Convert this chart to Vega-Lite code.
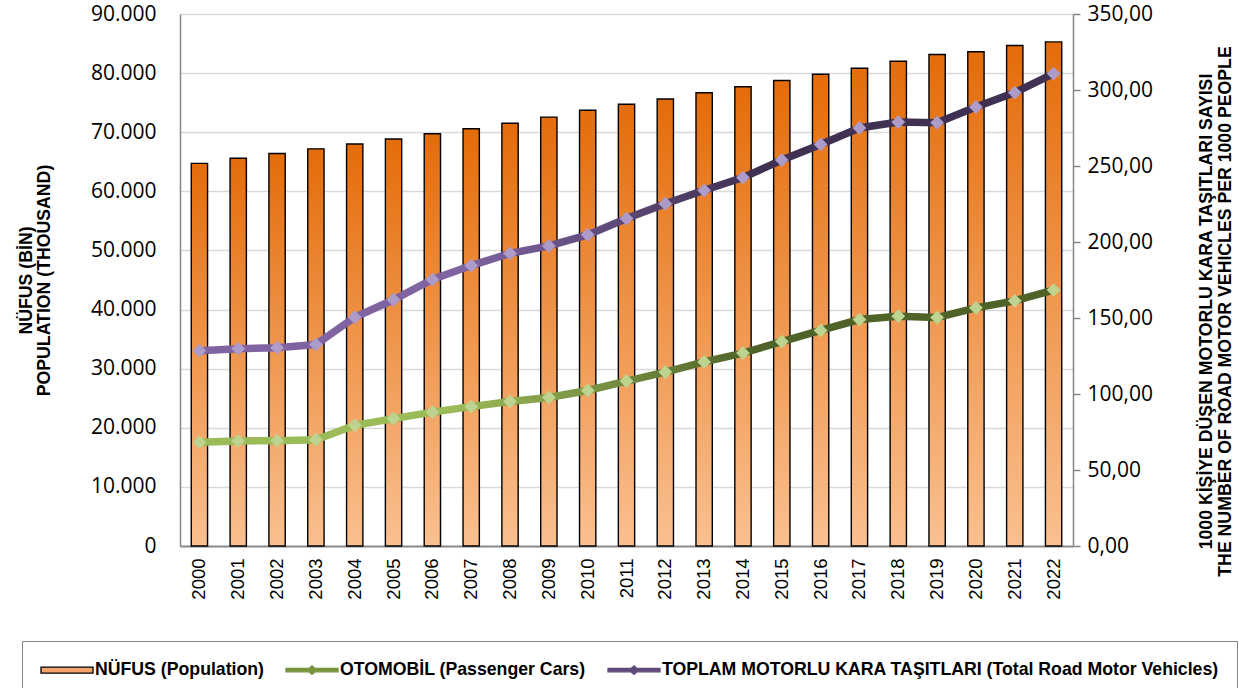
{
  "$schema": "https://vega.github.io/schema/vega-lite/v6.json",
  "width": 893,
  "height": 532,
  "autosize": "none",
  "padding": {"left": 180, "top": 14, "right": 166, "bottom": 142},
  "background": "#ffffff",
  "config": {"view": {"stroke": null}},
  "datasets": {
    "pop": [
      {"year": "2000", "value": 64729}, {"year": "2001", "value": 65603}, {"year": "2002", "value": 66401},
      {"year": "2003", "value": 67187}, {"year": "2004", "value": 68010}, {"year": "2005", "value": 68861},
      {"year": "2006", "value": 69730}, {"year": "2007", "value": 70586}, {"year": "2008", "value": 71517},
      {"year": "2009", "value": 72561}, {"year": "2010", "value": 73723}, {"year": "2011", "value": 74724},
      {"year": "2012", "value": 75627}, {"year": "2013", "value": 76668}, {"year": "2014", "value": 77696},
      {"year": "2015", "value": 78741}, {"year": "2016", "value": 79815}, {"year": "2017", "value": 80811},
      {"year": "2018", "value": 82004}, {"year": "2019", "value": 83155}, {"year": "2020", "value": 83615},
      {"year": "2021", "value": 84680}, {"year": "2022", "value": 85279}
    ],
    "veh": [
      {"year": "2000", "series": "OTOMOBİL (Passenger Cars)", "value": 68.3},
      {"year": "2001", "series": "OTOMOBİL (Passenger Cars)", "value": 69.1},
      {"year": "2002", "series": "OTOMOBİL (Passenger Cars)", "value": 69.3},
      {"year": "2003", "series": "OTOMOBİL (Passenger Cars)", "value": 69.9},
      {"year": "2004", "series": "OTOMOBİL (Passenger Cars)", "value": 79.4},
      {"year": "2005", "series": "OTOMOBİL (Passenger Cars)", "value": 83.8},
      {"year": "2006", "series": "OTOMOBİL (Passenger Cars)", "value": 88.1},
      {"year": "2007", "series": "OTOMOBİL (Passenger Cars)", "value": 91.7},
      {"year": "2008", "series": "OTOMOBİL (Passenger Cars)", "value": 95.1},
      {"year": "2009", "series": "OTOMOBİL (Passenger Cars)", "value": 97.7},
      {"year": "2010", "series": "OTOMOBİL (Passenger Cars)", "value": 102.3},
      {"year": "2011", "series": "OTOMOBİL (Passenger Cars)", "value": 108.5},
      {"year": "2012", "series": "OTOMOBİL (Passenger Cars)", "value": 114.4},
      {"year": "2013", "series": "OTOMOBİL (Passenger Cars)", "value": 121.1},
      {"year": "2014", "series": "OTOMOBİL (Passenger Cars)", "value": 126.9},
      {"year": "2015", "series": "OTOMOBİL (Passenger Cars)", "value": 134.5},
      {"year": "2016", "series": "OTOMOBİL (Passenger Cars)", "value": 141.8},
      {"year": "2017", "series": "OTOMOBİL (Passenger Cars)", "value": 149.0},
      {"year": "2018", "series": "OTOMOBİL (Passenger Cars)", "value": 151.2},
      {"year": "2019", "series": "OTOMOBİL (Passenger Cars)", "value": 150.3},
      {"year": "2020", "series": "OTOMOBİL (Passenger Cars)", "value": 156.7},
      {"year": "2021", "series": "OTOMOBİL (Passenger Cars)", "value": 161.3},
      {"year": "2022", "series": "OTOMOBİL (Passenger Cars)", "value": 168.4},
      {"year": "2000", "series": "TOPLAM MOTORLU KARA TAŞITLARI (Total Road Motor Vehicles)", "value": 128.5},
      {"year": "2001", "series": "TOPLAM MOTORLU KARA TAŞITLARI (Total Road Motor Vehicles)", "value": 129.8},
      {"year": "2002", "series": "TOPLAM MOTORLU KARA TAŞITLARI (Total Road Motor Vehicles)", "value": 130.5},
      {"year": "2003", "series": "TOPLAM MOTORLU KARA TAŞITLARI (Total Road Motor Vehicles)", "value": 132.5},
      {"year": "2004", "series": "TOPLAM MOTORLU KARA TAŞITLARI (Total Road Motor Vehicles)", "value": 150.5},
      {"year": "2005", "series": "TOPLAM MOTORLU KARA TAŞITLARI (Total Road Motor Vehicles)", "value": 162.0},
      {"year": "2006", "series": "TOPLAM MOTORLU KARA TAŞITLARI (Total Road Motor Vehicles)", "value": 175.4},
      {"year": "2007", "series": "TOPLAM MOTORLU KARA TAŞITLARI (Total Road Motor Vehicles)", "value": 184.5},
      {"year": "2008", "series": "TOPLAM MOTORLU KARA TAŞITLARI (Total Road Motor Vehicles)", "value": 192.5},
      {"year": "2009", "series": "TOPLAM MOTORLU KARA TAŞITLARI (Total Road Motor Vehicles)", "value": 197.4},
      {"year": "2010", "series": "TOPLAM MOTORLU KARA TAŞITLARI (Total Road Motor Vehicles)", "value": 204.7},
      {"year": "2011", "series": "TOPLAM MOTORLU KARA TAŞITLARI (Total Road Motor Vehicles)", "value": 215.4},
      {"year": "2012", "series": "TOPLAM MOTORLU KARA TAŞITLARI (Total Road Motor Vehicles)", "value": 225.2},
      {"year": "2013", "series": "TOPLAM MOTORLU KARA TAŞITLARI (Total Road Motor Vehicles)", "value": 234.0},
      {"year": "2014", "series": "TOPLAM MOTORLU KARA TAŞITLARI (Total Road Motor Vehicles)", "value": 242.4},
      {"year": "2015", "series": "TOPLAM MOTORLU KARA TAŞITLARI (Total Road Motor Vehicles)", "value": 253.9},
      {"year": "2016", "series": "TOPLAM MOTORLU KARA TAŞITLARI (Total Road Motor Vehicles)", "value": 264.2},
      {"year": "2017", "series": "TOPLAM MOTORLU KARA TAŞITLARI (Total Road Motor Vehicles)", "value": 275.0},
      {"year": "2018", "series": "TOPLAM MOTORLU KARA TAŞITLARI (Total Road Motor Vehicles)", "value": 278.9},
      {"year": "2019", "series": "TOPLAM MOTORLU KARA TAŞITLARI (Total Road Motor Vehicles)", "value": 278.5},
      {"year": "2020", "series": "TOPLAM MOTORLU KARA TAŞITLARI (Total Road Motor Vehicles)", "value": 288.8},
      {"year": "2021", "series": "TOPLAM MOTORLU KARA TAŞITLARI (Total Road Motor Vehicles)", "value": 298.3},
      {"year": "2022", "series": "TOPLAM MOTORLU KARA TAŞITLARI (Total Road Motor Vehicles)", "value": 310.8}
    ]
  },
  "layer": [
    {
      "data": {"name": "pop"},
      "mark": {
        "type": "bar",
        "stroke": "#000000",
        "strokeWidth": 1.4,
        "fill": {
          "gradient": "linear", "x1": 0, "y1": 0, "x2": 0, "y2": 1,
          "stops": [{"offset": 0, "color": "#E46C0A"}, {"offset": 1, "color": "#FAC090"}]
        }
      },
      "encoding": {
        "x": {
          "field": "year", "type": "ordinal",
          "scale": {"paddingInner": 0.58, "paddingOuter": 0.29},
          "axis": {
            "title": null, "labelAngle": 270, "labelFont": "Liberation Sans", "labelFontSize": 18.5,
            "labelColor": "#000000", "labelPadding": 12, "ticks": false,
            "domainColor": "#8C8C8C", "domainWidth": 2
          }
        },
        "y": {
          "field": "value", "type": "quantitative",
          "scale": {"domain": [0, 90000], "nice": false},
          "axis": {
            "values": [0, 10000, 20000, 30000, 40000, 50000, 60000, 70000, 80000, 90000],
            "labelExpr": "replace(format(datum.value, ','), ',', '.')",
            "labelFont": "Open Sans", "labelFontSize": 21, "labelColor": "#000000", "labelPadding": 24,
            "ticks": false, "domainColor": "#868686", "domainWidth": 1.5,
            "grid": true, "gridColor": "#D9D9D9", "gridWidth": 1.5,
            "title": ["NÜFUS (BİN)", "POPULATION (THOUSAND)"],
            "titleFont": "Liberation Sans", "titleFontWeight": "bold", "titleFontSize": 17.7,
            "titleLineHeight": 18, "titleColor": "#000000", "titlePadding": 37
          }
        }
      }
    },
    {
      "data": {"name": "veh"},
      "encoding": {
        "x": {"field": "year", "type": "ordinal"},
        "y": {
          "field": "value", "type": "quantitative",
          "scale": {"domain": [0, 350], "nice": false},
          "axis": {
            "orient": "right",
            "values": [0, 50, 100, 150, 200, 250, 300, 350],
            "labelExpr": "replace(format(datum.value, '.2f'), '.', ',')",
            "labelFont": "Open Sans", "labelFontSize": 21, "labelColor": "#000000", "labelPadding": 7,
            "ticks": true, "tickSize": 7, "tickColor": "#868686", "tickWidth": 1.5,
            "domainColor": "#868686", "domainWidth": 1.5, "grid": false,
            "title": ["1000 KİŞİYE DÜŞEN MOTORLU KARA TAŞITLARI SAYISI", "THE NUMBER OF ROAD MOTOR VEHICLES PER 1000 PEOPLE"],
            "titleAngle": 270, "titleY": 297,
            "titleFont": "Liberation Sans", "titleFontWeight": "bold", "titleFontSize": 17.7,
            "titleLineHeight": 19, "titleColor": "#000000", "titlePadding": 44
          }
        }
      },
      "layer": [
        {
          "mark": {"type": "point", "filled": true, "size": 100, "opacity": 0},
          "encoding": {
            "color": {
              "field": "series", "type": "nominal",
              "scale": {
                "domain": ["NÜFUS (Population)", "OTOMOBİL (Passenger Cars)", "TOPLAM MOTORLU KARA TAŞITLARI (Total Road Motor Vehicles)"],
                "range": ["#F4A46A", "#77933C", "#604A7B"]
              },
              "legend": {
                "orient": "none", "legendX": -158, "legendY": 627, "direction": "horizontal",
                "title": null, "labelFont": "Liberation Sans", "labelFontWeight": "bold", "labelFontSize": 17.7,
                "labelColor": "#000000", "symbolSize": 400, "symbolOpacity": 1, "symbolStrokeWidth": 1.3,
                "columnPadding": 19, "labelOffset": 33,
                "padding": 18, "strokeColor": "#868686", "fillColor": "#ffffff", "labelLimit": 800
              }
            },
            "stroke": {
              "field": "series", "type": "nominal",
              "scale": {
                "domain": ["NÜFUS (Population)", "OTOMOBİL (Passenger Cars)", "TOPLAM MOTORLU KARA TAŞITLARI (Total Road Motor Vehicles)"],
                "range": ["#000000", "#77933C", "#604A7B"]
              },
              "legend": {
                "orient": "none", "legendX": -158, "legendY": 627, "direction": "horizontal",
                "title": null, "labelFont": "Liberation Sans", "labelFontWeight": "bold", "labelFontSize": 17.7,
                "labelColor": "#000000", "symbolSize": 400, "symbolOpacity": 1, "symbolStrokeWidth": 1.3,
                "columnPadding": 19, "labelOffset": 33,
                "padding": 18, "strokeColor": "#868686", "fillColor": "#ffffff", "labelLimit": 800
              }
            },
            "shape": {
              "field": "series", "type": "nominal",
              "scale": {
                "domain": ["NÜFUS (Population)", "OTOMOBİL (Passenger Cars)", "TOPLAM MOTORLU KARA TAŞITLARI (Total Road Motor Vehicles)"],
                "range": [
                  "M-1,-0.3H4.2V0.3H-1Z",
                  "M-1,-0.17H1.3L1.6,-0.42L1.9,-0.17H4.2V0.17H1.9L1.6,0.42L1.3,0.17H-1Z",
                  "M-1,-0.17H1.3L1.6,-0.42L1.9,-0.17H4.2V0.17H1.9L1.6,0.42L1.3,0.17H-1Z"
                ]
              },
              "legend": {
                "orient": "none", "legendX": -158, "legendY": 627, "direction": "horizontal",
                "title": null, "labelFont": "Liberation Sans", "labelFontWeight": "bold", "labelFontSize": 17.7,
                "labelColor": "#000000", "symbolSize": 400, "symbolOpacity": 1, "symbolStrokeWidth": 1.3,
                "columnPadding": 19, "labelOffset": 33,
                "padding": 18, "strokeColor": "#868686", "fillColor": "#ffffff", "labelLimit": 800
              }
            }
          }
        },
        {
          "transform": [{"filter": "datum.series === 'OTOMOBİL (Passenger Cars)'"}],
          "mark": {
            "type": "line", "strokeWidth": 7.5,
            "stroke": {
              "gradient": "linear", "x1": 0, "y1": 0, "x2": 1, "y2": 0,
              "stops": [{"offset": 0, "color": "#9BBB59"}, {"offset": 0.3, "color": "#9BBB59"}, {"offset": 0.65, "color": "#4F6228"}, {"offset": 1, "color": "#4F6228"}]
            }
          }
        },
        {
          "transform": [{"filter": "datum.series === 'OTOMOBİL (Passenger Cars)'"}],
          "mark": {"type": "point", "shape": "diamond", "filled": true, "size": 190, "opacity": 1, "strokeWidth": 0, "fill": "#BDD38F"}
        },
        {
          "transform": [{"filter": "datum.series === 'TOPLAM MOTORLU KARA TAŞITLARI (Total Road Motor Vehicles)'"}],
          "mark": {
            "type": "line", "strokeWidth": 7.5,
            "stroke": {
              "gradient": "linear", "x1": 0, "y1": 0, "x2": 1, "y2": 0,
              "stops": [{"offset": 0, "color": "#8064A2"}, {"offset": 0.3, "color": "#8064A2"}, {"offset": 0.65, "color": "#403152"}, {"offset": 1, "color": "#403152"}]
            }
          }
        },
        {
          "transform": [{"filter": "datum.series === 'TOPLAM MOTORLU KARA TAŞITLARI (Total Road Motor Vehicles)'"}],
          "mark": {"type": "point", "shape": "diamond", "filled": true, "size": 190, "opacity": 1, "strokeWidth": 0, "fill": "#AD9BC9"}
        }
      ]
    }
  ],
  "resolve": {"scale": {"y": "independent"}}
}
